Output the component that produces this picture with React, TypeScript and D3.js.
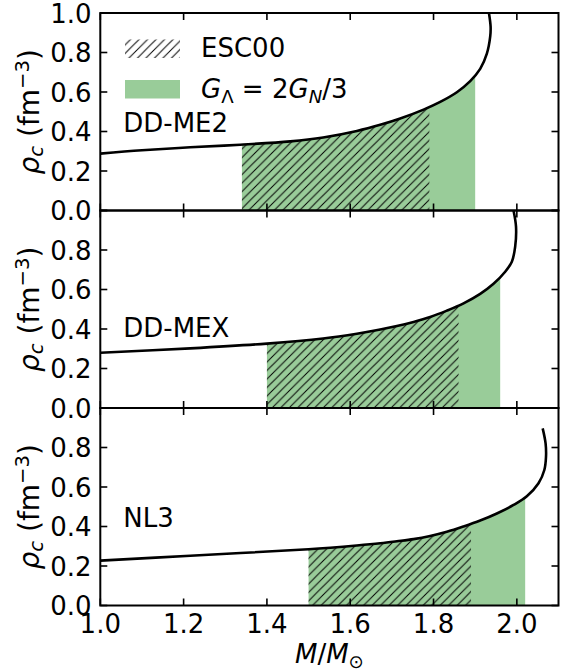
import React from "react";
import * as d3 from "d3";

// ---- data ----
const MODELS = ["DD-ME2", "DD-MEX", "NL3"];

const MASS_DDME2 = [1.0, 1.1, 1.216, 1.336, 1.456, 1.535, 1.616, 1.672, 1.72, 1.776, 1.816, 1.856, 1.888, 1.912, 1.928, 1.936, 1.937, 1.933];
const RHO_DDME2 = [0.288, 0.305, 0.32, 0.333, 0.35, 0.37, 0.403, 0.434, 0.466, 0.511, 0.55, 0.599, 0.655, 0.717, 0.794, 0.88, 0.931, 1.0];

const MASS_DDMEX = [1.0, 1.216, 1.4, 1.535, 1.616, 1.672, 1.712, 1.752, 1.792, 1.832, 1.872, 1.912, 1.944, 1.972, 1.988, 1.996, 1.998, 1.992];
const RHO_DDMEX = [0.28, 0.302, 0.326, 0.352, 0.376, 0.397, 0.415, 0.436, 0.461, 0.493, 0.53, 0.578, 0.629, 0.69, 0.741, 0.817, 0.918, 1.0];

const MASS_NL3 = [1.0, 1.216, 1.5, 1.616, 1.672, 1.712, 1.752, 1.792, 1.832, 1.872, 1.912, 1.952, 1.992, 2.024, 2.052, 2.066, 2.07, 2.069, 2.062];
const RHO_NL3 = [0.227, 0.252, 0.285, 0.304, 0.315, 0.325, 0.336, 0.352, 0.373, 0.4, 0.43, 0.466, 0.509, 0.553, 0.619, 0.686, 0.753, 0.821, 0.897];

// shaded mass ranges: [start, ESC00 end, G_Lambda end]
const RANGE_START = [1.34, 1.4, 1.5];
const ESC00_END = [1.79, 1.86, 1.89];
const GLAMBDA_END = [1.9, 1.96, 2.02];

// label anchor (data coords)
const LABEL_M = [1.055, 1.055, 1.055];
const LABEL_RHO = [0.4, 0.36, 0.4];

const X_TICKS = [1.0, 1.2, 1.4, 1.6, 1.8, 2.0];
const Y_TICKS = [0.0, 0.2, 0.4, 0.6, 0.8, 1.0];

const MASSES = [MASS_DDME2, MASS_DDMEX, MASS_NL3];
const RHOS = [RHO_DDME2, RHO_DDMEX, RHO_NL3];

const W = 571;
const H = 672;
const LEFT = 100.3;
const RIGHT = 558.5;
const TOP = 13;
const PANEL_H = 197.5;
const FS = 26;
const YFS = 28;
const GREEN = "#99cc99";
const FONT = "'DejaVu Sans', sans-serif";

export default function App() {
  const x = d3.scaleLinear().domain([1.0, 2.1]).range([LEFT, RIGHT]);
  const fmt = d3.format(".1f");
  const tickLen = 7;

  const panels = MODELS.map((name, i) => {
    const top = TOP + i * PANEL_H;
    const bottom = top + PANEL_H;
    const y = d3.scaleLinear().domain([0, 1]).range([bottom, top]);
    const pts: [number, number][] = MASSES[i].map((m, k) => [m, RHOS[i][k]]);
    const line = d3
      .line<[number, number]>()
      .x((d) => x(d[0]))
      .y((d) => y(d[1]))
      .curve(d3.curveCatmullRom.alpha(0.5));
    const curvePath = line(pts) || "";
    const last = pts[pts.length - 1];
    const areaPath =
      curvePath +
      `L${x(last[0])},${y(0)}L${x(pts[0][0])},${y(0)}Z`;
    const yLabelTicks = i === 0 ? Y_TICKS : Y_TICKS.slice(0, 5);
    return (
      <g key={name}>
        <defs>
          <clipPath id={`panel${i}`}>
            <rect x={LEFT} y={top} width={RIGHT - LEFT} height={PANEL_H} />
          </clipPath>
          <clipPath id={`green${i}`}>
            <rect
              x={x(RANGE_START[i])}
              y={top}
              width={x(GLAMBDA_END[i]) - x(RANGE_START[i])}
              height={PANEL_H}
            />
          </clipPath>
          <clipPath id={`hatch${i}`}>
            <rect
              x={x(RANGE_START[i])}
              y={top}
              width={x(ESC00_END[i]) - x(RANGE_START[i])}
              height={PANEL_H}
            />
          </clipPath>
        </defs>
        <g clipPath={`url(#panel${i})`}>
          <g clipPath={`url(#green${i})`}>
            <path d={areaPath} fill={GREEN} stroke="none" />
          </g>
          <g clipPath={`url(#hatch${i})`}>
            <path d={areaPath} fill="url(#hatchPat)" stroke="none" />
          </g>
          <path d={curvePath} fill="none" stroke="#000" strokeWidth={2.6} />
        </g>
        {/* ticks */}
        {X_TICKS.map((t) => (
          <g key={`xt${t}`} stroke="#000" strokeWidth={1.6}>
            <line x1={x(t)} x2={x(t)} y1={bottom} y2={bottom - tickLen} />
            <line x1={x(t)} x2={x(t)} y1={top} y2={top + tickLen} />
          </g>
        ))}
        {Y_TICKS.map((t) => (
          <g key={`yt${t}`} stroke="#000" strokeWidth={1.6}>
            <line x1={LEFT} x2={LEFT + tickLen} y1={y(t)} y2={y(t)} />
            <line x1={RIGHT} x2={RIGHT - tickLen} y1={y(t)} y2={y(t)} />
          </g>
        ))}
        {yLabelTicks.map((t) => (
          <text
            key={`yl${t}`}
            x={91.5}
            y={y(t) + 9.8}
            textAnchor="end"
            fontSize={FS}
            fontFamily={FONT}
          >
            {fmt(t)}
          </text>
        ))}
        {/* frame */}
        <rect
          x={LEFT}
          y={top}
          width={RIGHT - LEFT}
          height={PANEL_H}
          fill="none"
          stroke="#000"
          strokeWidth={2}
        />
        {/* model label */}
        <text
          x={x(LABEL_M[i])}
          y={y(LABEL_RHO[i])}
          fontSize={FS}
          fontFamily={FONT}
        >
          {name}
        </text>
        {/* y axis label */}
        <text
          transform={`translate(38.5,${top + PANEL_H / 2}) rotate(-90)`}
          textAnchor="middle"
          fontSize={YFS}
          fontFamily={FONT}
        >
          <tspan fontStyle="italic">ρ</tspan>
          <tspan fontStyle="italic" fontSize={YFS * 0.7} dy={4}>
            c
          </tspan>
          <tspan dy={-4}> (fm</tspan>
          <tspan fontSize={YFS * 0.7} dy={-10}>
            −3
          </tspan>
          <tspan dy={10}>)</tspan>
        </text>
      </g>
    );
  });

  const bottomAxis = TOP + 3 * PANEL_H;

  return (
    <svg
      width={W}
      height={H}
      style={{ position: "absolute", left: 0, top: 0, background: "#fff" }}
    >
      <defs>
        <pattern
          id="hatchPat"
          patternUnits="userSpaceOnUse"
          width={8.5}
          height={8.5}
        >
          <path
            d="M0,8.5 L8.5,0 M-2,2 L2,-2 M6.5,10.5 L10.5,6.5"
            stroke="#000"
            strokeWidth={1}
          />
        </pattern>
      </defs>
      <rect x={0} y={0} width={W} height={H} fill="#fff" />
      {panels}
      {/* x tick labels */}
      {X_TICKS.map((t) => (
        <text
          key={`xl${t}`}
          x={x(t)}
          y={bottomAxis + 27}
          textAnchor="middle"
          fontSize={FS}
          fontFamily={FONT}
        >
          {fmt(t)}
        </text>
      ))}
      {/* x axis label */}
      <text
        x={(LEFT + RIGHT) / 2}
        y={663}
        textAnchor="middle"
        fontSize={FS}
        fontFamily={FONT}
      >
        <tspan fontStyle="italic">M</tspan>
        <tspan>/</tspan>
        <tspan fontStyle="italic">M</tspan>
        <tspan fontSize={FS * 0.7} dy={5}>
          ⊙
        </tspan>
      </text>
      {/* legend */}
      <rect x={125} y={39.5} width={55} height={18.5} fill="url(#hatchPat)" />
      <text x={201} y={57.3} fontSize={FS} fontFamily={FONT}>
        ESC00
      </text>
      <rect x={125} y={80} width={55} height={18.5} fill={GREEN} />
      <text x={201} y={98.3} fontSize={FS} fontFamily={FONT}>
        <tspan fontStyle="italic">G</tspan>
        <tspan fontSize={FS * 0.7} dy={5}>
          Λ
        </tspan>
        <tspan dy={-5}> = 2</tspan>
        <tspan fontStyle="italic">G</tspan>
        <tspan fontStyle="italic" fontSize={FS * 0.7} dy={5}>
          N
        </tspan>
        <tspan dy={-5}>/3</tspan>
      </text>
    </svg>
  );
}
